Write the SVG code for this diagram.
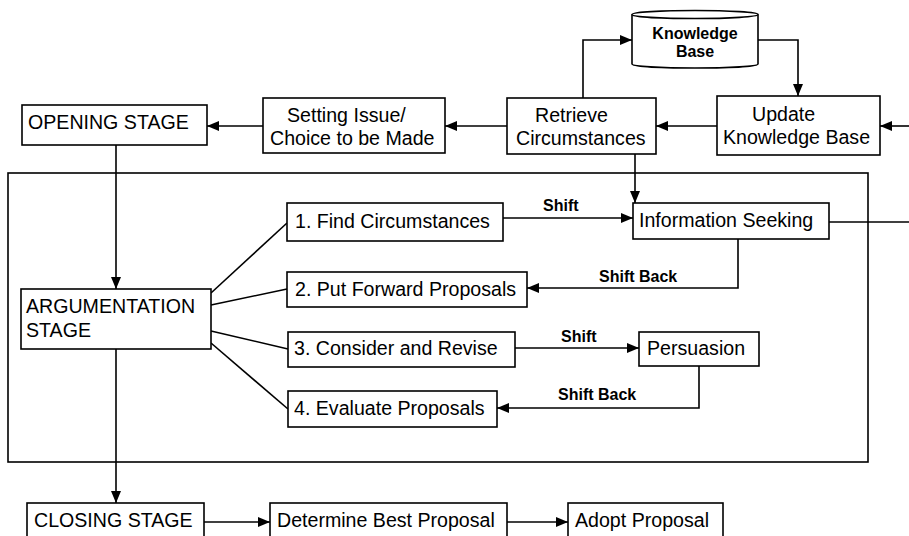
<svg xmlns="http://www.w3.org/2000/svg" width="909" height="536" viewBox="0 0 909 536">
<defs>
<marker id="ah" markerUnits="userSpaceOnUse" markerWidth="13" markerHeight="11" refX="12" refY="5" orient="auto"><path d="M0,0 L12,5 L0,10 z" fill="#000"/></marker>
<style>
.box{fill:#fff;stroke:#000;stroke-width:1.6}
.t{font-family:"Liberation Sans",Arial,sans-serif;font-size:19.6px;fill:#000}
.b{font-family:"Liberation Sans",Arial,sans-serif;font-size:16px;font-weight:bold;fill:#000}
.c{fill:none;stroke:#000;stroke-width:1.6}
.a{fill:none;stroke:#000;stroke-width:1.6;marker-end:url(#ah)}
</style>
</defs>
<rect width="909" height="536" fill="#fff"/>
<g id="frame"><rect x="8" y="173" width="860" height="289" class="c"/></g>
<g id="connectors">
<path class="a" d="M583,98 V40 H632"/>
<path class="a" d="M758,40 H798 V96"/>
<path class="a" d="M909,126 H880"/>
<path class="a" d="M717,126 H656"/>
<path class="a" d="M507,126 H445"/>
<path class="a" d="M263,126 H207"/>
<path class="a" d="M635,154 V203"/>
<path class="a" d="M116,145 V289"/>
<path class="a" d="M116,349 V503"/>
<path class="c" d="M211,293 L287,223"/>
<path class="c" d="M211,305 L287,289"/>
<path class="c" d="M211,331 L288,349"/>
<path class="c" d="M211,343 L288,409"/>
<path class="a" d="M503,218 H633"/>
<path class="c" d="M829,222 H909"/>
<path class="a" d="M738,239 V288 H527"/>
<path class="a" d="M515,348 H639"/>
<path class="a" d="M699,366 V408 H497"/>
<path class="a" d="M204,522 H270"/>
<path class="a" d="M507,522 H568"/>
<text class="b" x="543" y="211">Shift</text>
<text class="b" x="599" y="282">Shift Back</text>
<text class="b" x="561" y="342">Shift</text>
<text class="b" x="558" y="400">Shift Back</text>
</g>
<g id="kb">
<path class="box" d="M632,14.5 V64 A63,4 0 0 0 758,64 V14.5 A63,4 0 0 0 632,14.5 Z"/>
<path class="c" d="M632,14.5 A63,4 0 0 0 758,14.5"/>
<text class="b" x="695" y="39" text-anchor="middle">Knowledge</text>
<text class="b" x="695" y="57" text-anchor="middle">Base</text>
</g>
<g id="update"><rect class="box" x="717" y="96" width="163" height="59"/>
<text class="t" x="752" y="121">Update</text><text class="t" x="723" y="144">Knowledge Base</text></g>
<g id="retrieve"><rect class="box" x="507" y="98" width="149" height="56"/>
<text class="t" x="535" y="122">Retrieve</text><text class="t" x="516" y="145">Circumstances</text></g>
<g id="setting"><rect class="box" x="263" y="98" width="182" height="55"/>
<text class="t" x="287" y="122">Setting Issue/</text><text class="t" x="270" y="145">Choice to be Made</text></g>
<g id="opening"><rect class="box" x="22" y="105" width="185" height="40"/>
<text class="t" x="28" y="129">OPENING STAGE</text></g>
<g id="argumentation"><rect class="box" x="21" y="289" width="190" height="60"/>
<text class="t" x="26" y="313">ARGUMENTATION</text><text class="t" x="26" y="337">STAGE</text></g>
<g id="find"><rect class="box" x="287" y="203" width="216" height="38"/>
<text class="t" x="295" y="228">1. Find Circumstances</text></g>
<g id="forward"><rect class="box" x="287" y="272" width="240" height="35"/>
<text class="t" x="295" y="296">2. Put Forward Proposals</text></g>
<g id="consider"><rect class="box" x="288" y="332" width="227" height="35"/>
<text class="t" x="294" y="355">3. Consider and Revise</text></g>
<g id="evaluate"><rect class="box" x="288" y="391" width="209" height="36"/>
<text class="t" x="294" y="415">4. Evaluate Proposals</text></g>
<g id="info"><rect class="box" x="633" y="203" width="196" height="36"/>
<text class="t" x="639" y="227">Information Seeking</text></g>
<g id="persuasion"><rect class="box" x="639" y="332" width="120" height="34"/>
<text class="t" x="647" y="355">Persuasion</text></g>
<g id="closing"><rect class="box" x="27" y="503" width="177" height="40"/>
<text class="t" x="34" y="527">CLOSING STAGE</text></g>
<g id="determine"><rect class="box" x="270" y="503" width="237" height="40"/>
<text class="t" x="277" y="527">Determine Best Proposal</text></g>
<g id="adopt"><rect class="box" x="568" y="503" width="155" height="40"/>
<text class="t" x="575" y="527">Adopt Proposal</text></g>
</svg>
